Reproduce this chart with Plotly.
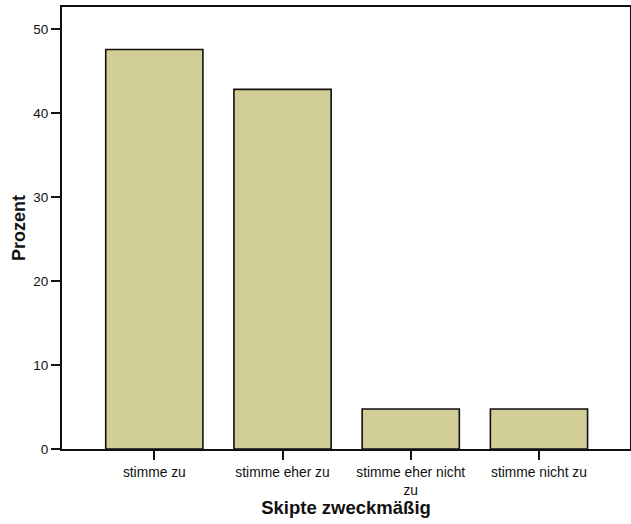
import plotly.graph_objects as go

categories = ["stimme zu", "stimme eher zu", "stimme eher nicht<br>zu", "stimme nicht zu"]
percent = [47.62, 42.86, 4.76, 4.76]
y_ticks = [0, 10, 20, 30, 40, 50]

FONT = "Arial, Liberation Sans, Helvetica, sans-serif"

fig = go.Figure(go.Bar(
    x=list(range(len(categories))),
    y=percent,
    width=0.758,
    marker=dict(color="#D2CE98", line=dict(color="#111111", width=1.6)),
    hoverinfo="skip",
))

fig.update_layout(
    width=631, height=524,
    margin=dict(l=62, r=1, t=7, b=75),
    paper_bgcolor="white", plot_bgcolor="white",
    showlegend=False,
    font=dict(family=FONT, size=13.5, color="#111111"),
    xaxis=dict(
        range=[-0.72, 3.71],
        tickmode="array",
        tickvals=list(range(len(categories))),
        ticktext=categories,
        ticks="outside", ticklen=9, tickwidth=1.5, tickcolor="#111111",
        showline=True, linecolor="#111111", linewidth=2, mirror=True,
        showgrid=False, zeroline=False,
        tickfont=dict(size=13.8),
        title=dict(text="<b>Skipte zweckmäßig</b>", font=dict(size=18.5), standoff=5),
        automargin=False,
    ),
    yaxis=dict(
        range=[0, 52.68],
        tickmode="array",
        tickvals=y_ticks,
        ticks="outside", ticklen=9, tickwidth=1.5, tickcolor="#111111",
        showline=True, linecolor="#111111", linewidth=2, mirror=True,
        showgrid=False, zeroline=False,
        tickfont=dict(size=13.5),
        title=dict(text="<b>Prozent</b>", font=dict(size=18), standoff=3),
        automargin=False,
    ),
)

fig.write_html("out.html", config={"displayModeBar": False},
               post_script="document.body.style.margin='0';")
